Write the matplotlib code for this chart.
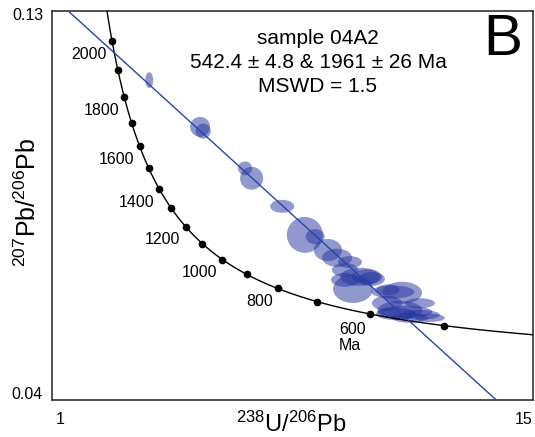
import numpy as np
import matplotlib
matplotlib.use("Agg")
import matplotlib.pyplot as plt
from matplotlib.patches import Ellipse

plt.rcParams['font.family'] = ['Liberation Sans', 'DejaVu Sans']
plt.rcParams['mathtext.fontset'] = 'custom'
plt.rcParams['mathtext.rm'] = 'Liberation Sans'

# decay constants (1/yr) and 238U/235U
LAMBDA_238 = 1.55125e-10
LAMBDA_235 = 9.8485e-10
U_RATIO = 137.88

# concordia ages with dots (Ma) and labelled ages
dot_ages = [500, 600, 700, 800, 900, 1000, 1100, 1200, 1300, 1400,
            1500, 1600, 1700, 1800, 1900, 2000]
label_ages = [2000, 1800, 1600, 1400, 1200, 1000, 800]

# intercept ages (Ma)
lower_age = 542.4
upper_age = 1961.0

# error ellipses: centre 238U/206Pb, centre 207Pb/206Pb, width, height
ell_x = [3.83, 5.31, 5.40, 6.62, 6.81, 7.70, 8.36, 8.66,
         9.03, 9.30, 9.67, 9.53, 9.97, 10.17, 10.31, 9.76, 9.53,
         10.78, 10.92, 11.19, 11.71, 10.75, 11.13, 11.27, 11.71, 11.01,
         11.42, 12.00]
ell_y = [0.1140, 0.1032, 0.1022, 0.0936, 0.0913, 0.0848, 0.0782, 0.0778,
         0.0747, 0.0729, 0.0719, 0.0701, 0.0685, 0.0685, 0.0680, 0.0657, 0.0678,
         0.0655, 0.0650, 0.0648, 0.0624, 0.0624, 0.0608, 0.0604, 0.0597, 0.0599,
         0.0590, 0.0590]
ell_w = [0.23, 0.58, 0.44, 0.41, 0.67, 0.70, 1.05, 0.55,
         0.82, 0.87, 0.70, 0.76, 1.16, 0.87, 0.76, 1.16, 0.82,
         0.67, 1.25, 1.16, 0.87, 0.87, 1.31, 1.60, 1.16, 1.16,
         1.05, 0.87]
ell_h = [0.0037, 0.0046, 0.0035, 0.0032, 0.0053, 0.0030, 0.0083, 0.0035,
         0.0051, 0.0042, 0.0028, 0.0032, 0.0042, 0.0035, 0.0032, 0.0065, 0.0032,
         0.0025, 0.0030, 0.0051, 0.0023, 0.0035, 0.0042, 0.0028, 0.0023, 0.0028,
         0.0023, 0.0019]


def concordia(age_ma):
    t = np.asarray(age_ma) * 1e6
    e238 = np.exp(LAMBDA_238 * t) - 1
    e235 = np.exp(LAMBDA_235 * t) - 1
    return 1 / e238, e235 / e238 / U_RATIO


fig = plt.figure(figsize=(5.35, 4.37), dpi=100)
ax = fig.add_axes([52 / 535, 1 - 400 / 437, 481 / 535, 389 / 437])
ax.set_xlim(1, 15)
ax.set_ylim(0.04, 0.13)
ax.set_xticks([])
ax.set_yticks([])
for sp in ax.spines.values():
    sp.set_linewidth(1.1)
    sp.set_color('#222222')

# ellipses
for x, y, w, h in zip(ell_x, ell_y, ell_w, ell_h):
    ax.add_patch(Ellipse((x, y), w, h, facecolor=(0.14, 0.2, 0.62),
                         edgecolor='none', alpha=0.5, zorder=2))

# concordia curve
ages = np.linspace(300, 2200, 400)
cx, cy = concordia(ages)
ax.plot(cx, cy, color='black', lw=1.0, zorder=3)
dx, dy = concordia(dot_ages)
ax.plot(dx, dy, 'o', color='black', ms=4.5, zorder=4)

for a in label_ages:
    px, py = concordia(a)
    ax.annotate(str(a), (px, py), xytext=(-3.6, -9.4), textcoords='offset points',
                ha='right', va='center', fontsize=11.5)
px, py = concordia(600)
ax.annotate('600\nMa', (px, py), xytext=(-3.0, -5.5), textcoords='offset points',
            ha='right', va='top', ma='left', fontsize=11.5, linespacing=1.1)

# discordia line through both intercepts
x1, y1 = concordia(lower_age)
x2, y2 = concordia(upper_age)
slope = (y1 - y2) / (x1 - x2)
lx = np.array([0.5, 16.0])
ax.plot(lx, y2 + slope * (lx - x2), color='#2548a8', lw=1.0, zorder=5)

ax.text(0.553, 0.8676, 'sample 04A2\n542.4 \u00b1 4.8 & 1961 \u00b1 26 Ma\nMSWD = 1.5',
        transform=ax.transAxes, ha='center', va='center', ma='center',
        fontsize=15, linespacing=1.32)
ax.text(0.977, 0.887, 'B', transform=ax.transAxes, ha='right', va='baseline',
        fontsize=42)

# corner tick labels
ax.annotate('1', (0, 0), xycoords='axes fraction', xytext=(3, -14),
            textcoords='offset points', ha='left', va='center', fontsize=11.5)
ax.annotate('15', (1, 0), xycoords='axes fraction', xytext=(-0.3, -14),
            textcoords='offset points', ha='right', va='center', fontsize=11.5)
ax.annotate('0.13', (0, 1), xycoords='axes fraction', xytext=(-6.3, -3),
            textcoords='offset points', ha='right', va='center', fontsize=11.5)
ax.annotate('0.04', (0, 0), xycoords='axes fraction', xytext=(-6.8, 4),
            textcoords='offset points', ha='right', va='center', fontsize=11.5)

fig.text(291.7 / 535, 1 - 424 / 437, r'$\mathregular{^{238}U/^{206}Pb}$',
         ha='center', va='center', fontsize=17)
fig.text(28 / 535, 1 - 202 / 437, r'$\mathregular{^{207}Pb/^{206}Pb}$',
         ha='center', va='center', rotation=90, fontsize=18)

fig.savefig('out.png', dpi=100)
